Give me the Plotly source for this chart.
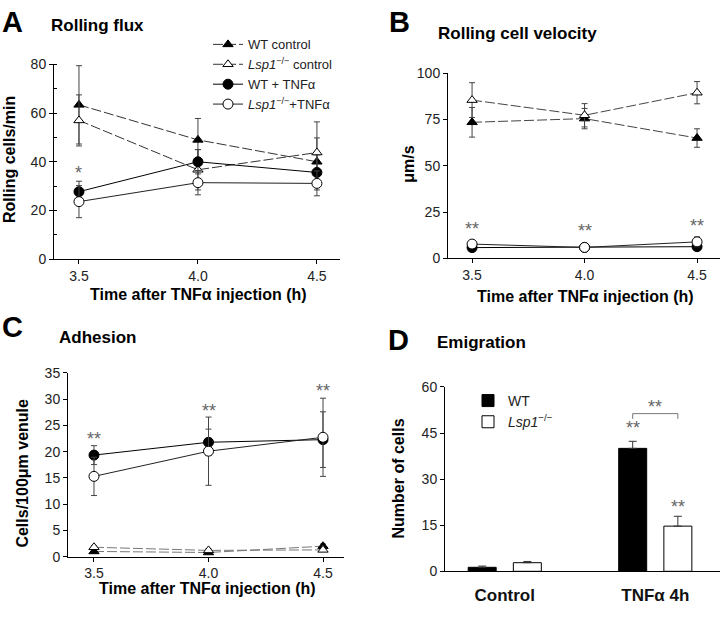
import plotly.graph_objects as go

W, H = 720, 617
FONT = "Arial, Liberation Sans, sans-serif"

# ---- data ----------------------------------------------------------------
TIME_H = [3.5, 4.0, 4.5]

# A  rolling flux (cells/min)
flux_wt_ctrl = [63.4, 49.0, 40.0]
flux_wt_ctrl_err = [16.1, 8.8, 9.8]
flux_ko_ctrl = [57.0, 36.7, 43.8]
flux_ko_ctrl_err = [10.5, 8.3, 12.6]
flux_wt_tnf = [27.7, 40.0, 35.6]
flux_wt_tnf_err = [4.3, 5.0, 7.2]
flux_ko_tnf = [23.6, 31.4, 31.1]
flux_ko_tnf_err = [6.6, 5.0, 5.1]
flux_stars = ["*", "", ""]
flux_star_y = [35.3, 0, 0]

# B  rolling velocity (um/s)
vel_wt_ctrl = [73.5, 75.5, 65.0]
vel_wt_ctrl_err = [8.0, 5.5, 5.0]
vel_ko_ctrl = [85.5, 77.3, 89.5]
vel_ko_ctrl_err = [9.4, 6.3, 6.0]
vel_wt_tnf = [5.8, 5.9, 6.3]
vel_wt_tnf_err = [0.8, 0.5, 0.8]
vel_ko_tnf = [7.7, 5.9, 8.9]
vel_ko_tnf_err = [1.0, 0.5, 2.7]
vel_stars = ["**", "**", "**"]
vel_star_y = [15.6, 14.6, 17.7]

# C  adhesion (cells/100um venule)
adh_wt_ctrl = [1.0, 0.8, 2.0]
adh_wt_ctrl_err = [0.3, 0.2, 0.4]
adh_ko_ctrl = [1.8, 1.2, 1.3]
adh_ko_ctrl_err = [0.3, 0.3, 0.3]
adh_wt_tnf = [19.35, 21.8, 22.3]
adh_wt_tnf_err = [1.8, 2.5, 5.3]
adh_ko_tnf = [15.3, 20.1, 22.75]
adh_ko_tnf_err = [3.65, 6.5, 7.45]
adh_stars = ["**", "**", "**"]
adh_star_y = [22.4, 27.8, 31.5]

# D  emigration (number of cells)
GROUPS = ["Control", "TNFα 4h"]
emig_wt = [1.3, 40.0]
emig_wt_err = [0.4, 2.3]
emig_ko = [2.8, 14.7]
emig_ko_err = [0.4, 3.2]
emig_wt_stars = ["", "**"]
emig_wt_star_y = [0, 46.7]
emig_ko_stars = ["", "**"]
emig_ko_star_y = [0, 20.9]
bracket_y = 51.3
bracket_star = "**"

KO = "<i>Lsp1</i><sup>−/−</sup>"
NAMES = ["WT control", KO + " control", "WT + TNFα", KO + "+TNFα"]


def px_x(a, b):
    return [a / W, b / W]


def px_y(top, bottom):
    return [1 - bottom / H, 1 - top / H]


fig = go.Figure()

DASH = "10px,3px"


def add_lines(xa, ya, series, show, dash_col="#333"):
    styles = [
        dict(symbol="triangle-up", color="black", dash=DASH, lc=dash_col, size=9),
        dict(symbol="triangle-up", color="white", dash=DASH, lc=dash_col, size=9),
        dict(symbol="circle", color="black", dash="solid", lc="black", size=10),
        dict(symbol="circle", color="white", dash="solid", lc="#222", size=10),
    ]
    for (vals, errs), st, name in zip(series, styles, NAMES):
        fig.add_trace(go.Scatter(
            x=TIME_H, y=vals, name=name, xaxis=xa, yaxis=ya,
            mode="lines+markers", showlegend=show, legend="legend",
            line=dict(color=st["lc"], width=1, dash=st["dash"]),
            marker=dict(symbol=st["symbol"], size=st["size"], color=st["color"],
                        line=dict(color="black", width=1)),
            error_y=dict(type="data", array=errs, color="#444", thickness=1, width=3),
        ))


add_lines("x", "y", [(flux_wt_ctrl, flux_wt_ctrl_err), (flux_ko_ctrl, flux_ko_ctrl_err),
                     (flux_wt_tnf, flux_wt_tnf_err), (flux_ko_tnf, flux_ko_tnf_err)], True)
add_lines("x2", "y2", [(vel_wt_ctrl, vel_wt_ctrl_err), (vel_ko_ctrl, vel_ko_ctrl_err),
                       (vel_wt_tnf, vel_wt_tnf_err), (vel_ko_tnf, vel_ko_tnf_err)], False, "#444")
add_lines("x3", "y3", [(adh_wt_ctrl, adh_wt_ctrl_err), (adh_ko_ctrl, adh_ko_ctrl_err),
                       (adh_wt_tnf, adh_wt_tnf_err), (adh_ko_tnf, adh_ko_tnf_err)], False, "#777")

# D bars
GROUP_POS = list(range(len(GROUPS)))
BARGAP = 0.4
HALF = (1 - BARGAP) / 4  # offset of each bar centre from the group centre
fig.add_trace(go.Bar(x=GROUP_POS, y=emig_wt, name="WT", xaxis="x4", yaxis="y4",
                     legend="legend2", marker=dict(color="black", line=dict(color="black", width=1)),
                     error_y=dict(type="data", array=emig_wt_err, arrayminus=[0, 0],
                                  symmetric=False, color="#333", thickness=1, width=4)))
fig.add_trace(go.Bar(x=GROUP_POS, y=emig_ko, name=KO, xaxis="x4", yaxis="y4",
                     legend="legend2", marker=dict(color="white", line=dict(color="black", width=1)),
                     error_y=dict(type="data", array=emig_ko_err, arrayminus=[0, 0],
                                  symmetric=False, color="#333", thickness=1, width=4)))
g = GROUP_POS[1]
fig.add_trace(go.Scatter(x=[g - HALF, g - HALF, g + HALF, g + HALF],
                         y=[bracket_y - 1.7, bracket_y, bracket_y, bracket_y - 1.7],
                         mode="lines", line=dict(color="#777", width=1),
                         xaxis="x4", yaxis="y4", showlegend=False, hoverinfo="skip"))

# ---- axes ----------------------------------------------------------------
axis_common = dict(showline=True, linecolor="black", linewidth=1, ticks="outside",
                   ticklen=4, tickcolor="black", showgrid=False, zeroline=False,
                   tickfont=dict(family=FONT, size=14, color="#222"))

fig.update_layout(
    xaxis=dict(domain=px_x(54, 340), range=[3.395, 4.597], tickvals=TIME_H,
               tickformat=".1f", anchor="y", **axis_common),
    yaxis=dict(domain=px_y(58, 257.7), range=[0, 80], dtick=20, anchor="x",
               minor=dict(dtick=10, ticks="inside", ticklen=3, tickcolor="black"),
               **axis_common),
    xaxis2=dict(domain=px_x(448, 720), range=[3.393, 4.602], tickvals=TIME_H,
                tickformat=".1f", anchor="y2", **axis_common),
    yaxis2=dict(domain=px_y(67, 257), range=[0, 100], dtick=25, anchor="x2", **axis_common),
    xaxis3=dict(domain=px_x(68, 344), range=[3.3865, 4.5917], tickvals=TIME_H,
                tickformat=".1f", anchor="y3", **axis_common),
    yaxis3=dict(domain=px_y(374.7, 563.3), range=[0, 35], dtick=5, anchor="x3", **axis_common),
    xaxis4=dict(domain=px_x(445, 720), range=[-0.397, 1.43], tickvals=GROUP_POS,
                ticktext=["<b>%s</b>" % s for s in GROUPS], anchor="y4",
                **{**axis_common, "ticks": "", "ticklabelstandoff": 8,
                   "tickfont": dict(family=FONT, size=17, color="#111")}),
    yaxis4=dict(domain=px_y(389, 578.3), range=[0, 60], dtick=15, anchor="x4", **axis_common),
    barmode="group", bargap=BARGAP, bargroupgap=0.38,
)

# ---- text ----------------------------------------------------------------
ann = []


def txt(x, y, s, size, xanchor="left", angle=0, color="black"):
    ann.append(dict(x=x / W, y=1 - y / H, xref="paper", yref="paper", text=s,
                    showarrow=False, xanchor=xanchor, yanchor="middle", textangle=angle,
                    font=dict(family=FONT, size=size, color=color)))


for x, y, s in [(0, 14, "A"), (387, 14, "B"), (0, 327, "C"), (386, 341, "D")]:
    txt(x, y, "<b>%s</b>" % s, 29)
for x, y, s in [(49, 18, "Rolling flux"), (436, 26, "Rolling cell velocity"),
                (57, 338, "Adhesion"), (435, 343, "Emigration")]:
    txt(x, y, "<b>%s</b>" % s, 17)

XT = "<b>Time after TNFα injection (h)</b>"
txt(198, 294, XT, 16, xanchor="center")
txt(585, 296, XT, 16, xanchor="center")
txt(208, 596, XT, 16, xanchor="center")
txt(10, 156, "<b>Rolling cells/min</b>", 16, xanchor="center", angle=-90)
txt(409, 161, "<b>μm/s</b>", 16, xanchor="center", angle=-90)
txt(23, 478, "<b>Cells/100μm venule</b>", 16, xanchor="center", angle=-90)
txt(398, 483, "<b>Number of cells</b>", 16, xanchor="center", angle=-90)


def stars(xa, ya, xs, ys, labels):
    for x, y, s in zip(xs, ys, labels):
        if s:
            ann.append(dict(x=x, y=y, xref=xa, yref=ya, text=s, showarrow=False,
                            yanchor="middle", font=dict(family=FONT, size=18, color="#666")))


stars("x", "y", TIME_H, flux_star_y, flux_stars)
stars("x2", "y2", TIME_H, vel_star_y, vel_stars)
stars("x3", "y3", TIME_H, adh_star_y, adh_stars)
stars("x4", "y4", [p - HALF for p in GROUP_POS], emig_wt_star_y, emig_wt_stars)
stars("x4", "y4", [p + HALF for p in GROUP_POS], emig_ko_star_y, emig_ko_stars)
stars("x4", "y4", [GROUP_POS[1]], [bracket_y + 2.2], [bracket_star])

fig.update_layout(
    annotations=ann,
    width=W, height=H, margin=dict(l=0, r=0, t=0, b=0),
    paper_bgcolor="white", plot_bgcolor="white",
    font=dict(family=FONT, color="black"),
    legend=dict(x=208 / W, y=1 - 22 / H, xanchor="left", yanchor="top",
                bgcolor="rgba(0,0,0,0)", font=dict(family=FONT, size=13, color="#222"),
                itemwidth=30, tracegroupgap=0),
    legend2=dict(x=468 / W, y=1 - 387 / H, xanchor="left", yanchor="top",
                 bgcolor="rgba(0,0,0,0)", font=dict(family=FONT, size=14, color="#222"),
                 itemwidth=30),
    showlegend=True,
)

# the page's default body margin would push the 720x617 figure off the window
fig.write_html("out.html", config={"displayModeBar": False},
               post_script="document.body.style.margin='0';")
